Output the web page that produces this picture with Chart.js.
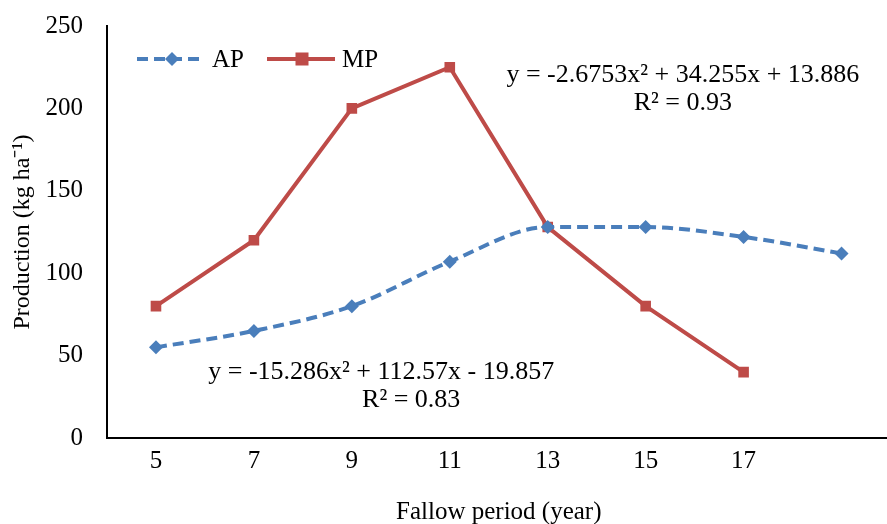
<!DOCTYPE html>
<html>
<head>
<meta charset="utf-8">
<script src="https://cdn.jsdelivr.net/npm/chart.js@4/dist/chart.umd.min.js"></script>
<style>
    html, body { margin: 0; padding: 0; background: #fff; overflow: hidden; }
    #wrap { width: 898px; height: 524px; }
</style>
</head>
<body>
<div id="wrap"><canvas id="prodChart"></canvas></div>
<script>
const categories = ["5", "7", "9", "11", "13", "15", "17", ""];
const apValues = [55, 65, 80, 107, 128, 128, 122, 112];
const mpValues = [80, 120, 200, 225, 128, 80, 40, null];
const seriesNames = ["AP", "MP"];
const apFit = ["y = -15.286x² + 112.57x - 19.857", "R² = 0.83"];
const mpFit = ["y = -2.6753x² + 34.255x + 13.886", "R² = 0.93"];

const serif = "'Liberation Serif', 'Times New Roman', serif";
const blue = "#4a7ebb";
const red = "#be4b48";

// legend: line + marker + label, like the spreadsheet style
const legendPlugin = {
    id: "lineLegend",
    afterDraw(chart) {
        const ctx = chart.ctx;
        const y = 59;
        const items = [
            { x: 137, ds: chart.data.datasets[0] },
            { x: 267, ds: chart.data.datasets[1] }
        ];
        ctx.save();
        items.forEach(it => {
            ctx.strokeStyle = it.ds.borderColor;
            ctx.lineWidth = it.ds.borderWidth;
            ctx.setLineDash(it.ds.borderDash || []);
            ctx.beginPath();
            ctx.moveTo(it.x, y);
            ctx.lineTo(it.x + 68, y);
            ctx.stroke();
            ctx.setLineDash([]);
            ctx.fillStyle = it.ds.backgroundColor;
            const cx = it.x + 35;
            if (it.ds.pointStyle === "rectRot") {
                const r = 7;
                ctx.beginPath();
                ctx.moveTo(cx, y - r);
                ctx.lineTo(cx + r, y);
                ctx.lineTo(cx, y + r);
                ctx.lineTo(cx - r, y);
                ctx.closePath();
                ctx.fill();
            } else {
                ctx.fillRect(cx - 6.5, y - 6.5, 13, 13);
            }
            ctx.fillStyle = "#000";
            ctx.font = "25px " + serif;
            ctx.textBaseline = "middle";
            ctx.textAlign = "left";
            ctx.fillText(it.ds.label, it.x + 75, y + 1);
        });
        ctx.restore();
    }
};

// trend line equations
const fitTextPlugin = {
    id: "fitText",
    afterDraw(chart) {
        const ctx = chart.ctx;
        const xs = chart.scales.x;
        const ys = chart.scales.y;
        const put = (lines, xi, yv, offs) => {
            const px = xs.getPixelForValue(xi);
            const py = ys.getPixelForValue(yv);
            lines.forEach((t, i) => ctx.fillText(t, px + offs[i], py + i * 28));
        };
        ctx.save();
        ctx.fillStyle = "#000";
        ctx.font = "26px " + serif;
        ctx.textAlign = "center";
        ctx.textBaseline = "middle";
        put(mpFit, 5.38, 220, [0, 0]);
        put(apFit, 2.3, 40, [0, 30]);
        ctx.restore();
    }
};

new Chart(document.getElementById("prodChart"), {
    type: "line",
    data: {
        labels: categories,
        datasets: [
            {
                label: seriesNames[0],
                data: apValues,
                borderColor: blue,
                backgroundColor: blue,
                borderWidth: 4,
                borderDash: [11, 6],
                pointStyle: "rectRot",
                pointRadius: 7,
                pointBorderWidth: 0,
                cubicInterpolationMode: "monotone"
            },
            {
                label: seriesNames[1],
                data: mpValues,
                borderColor: red,
                backgroundColor: red,
                borderWidth: 4,
                pointStyle: "rect",
                pointRadius: 7.5,
                pointBorderWidth: 0,
                tension: 0
            }
        ]
    },
    options: {
        responsive: true,
        maintainAspectRatio: false,
        animation: false,
        layout: { padding: { top: 26, right: 0, left: 0, bottom: 0 } },
        plugins: {
            legend: { display: false },
            tooltip: { enabled: false }
        },
        scales: {
            x: {
                offset: true,
                grid: { display: false, drawTicks: false },
                border: { color: "#000", width: 2 },
                ticks: { color: "#000", font: { family: serif, size: 25 }, padding: 8 },
                title: {
                    display: true,
                    text: "Fallow period (year)",
                    color: "#000",
                    font: { family: serif, size: 25 },
                    padding: { top: 4, bottom: -3 }
                },
                afterFit: s => {
                    s.height = 86;
                    s.paddingLeft = 0;
                    s.paddingRight = 0;
                }
            },
            y: {
                min: 0,
                max: 250,
                ticks: { stepSize: 50, color: "#000", font: { family: serif, size: 25 }, padding: 24 },
                grid: { display: false, drawTicks: false },
                border: { color: "#000", width: 2 },
                title: {
                    display: true,
                    text: "Production (kg ha⁻¹)",
                    color: "#000",
                    font: { family: serif, size: 24 },
                    padding: { top: 8, bottom: 2 }
                },
                afterFit: s => {
                    s.width = 107;
                    s.paddingTop = 0;
                    s.paddingBottom = 0;
                }
            }
        }
    },
    plugins: [legendPlugin, fitTextPlugin]
});
</script>
</body>
</html>
